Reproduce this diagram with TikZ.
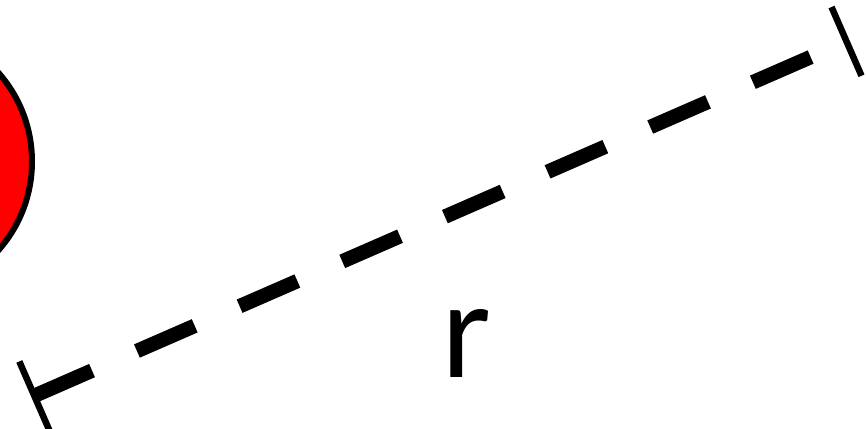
\documentclass[tikz,border=0pt]{standalone}
\usepackage{fontspec}
\setmainfont{Lato}
\usetikzlibrary{calc}
\begin{document}
\begin{tikzpicture}[x=1pt, y=-1pt,
  radius line/.style={line width=14.5pt, dash pattern=on 63pt off 49pt},
  end tick/.style={line width=6.5pt},
  every node/.style={inner sep=0pt}]
\useasboundingbox (0,0) rectangle (866,428);
\clip (0,0) rectangle (866,428);
% charge
\node[circle,draw,line width=6pt,fill=red,minimum size=268pt] (charge) at (-102,161.5) {};
% radius
\coordinate (rstart) at (34.3,395.8);
\coordinate (rend) at (846.5,41.4);
\draw[radius line] (rstart) -- (rend);
\draw[end tick] ($(rstart)!37.5pt!90:(rend)$) -- ($(rstart)!37.5pt!-90:(rend)$);
\draw[end tick] ($(rend)!37.5pt!90:(rstart)$) -- ($(rend)!37.5pt!-90:(rstart)$);
\node[anchor=base,font=\fontsize{132}{132}\selectfont] (rlabel) at (466,377) {r};
\end{tikzpicture}
\end{document}
